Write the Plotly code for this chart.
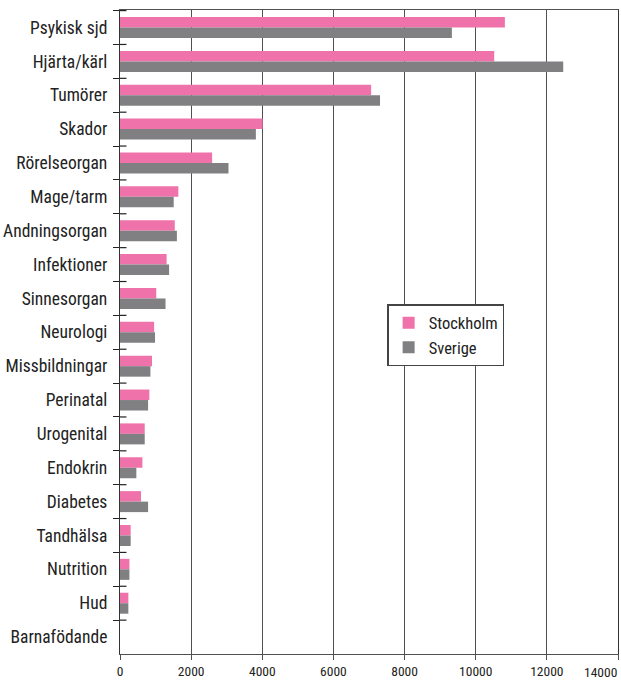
import plotly.graph_objects as go

categories = ["Psykisk sjd", "Hjärta/kärl", "Tumörer", "Skador", "Rörelseorgan",
              "Mage/tarm", "Andningsorgan", "Infektioner", "Sinnesorgan", "Neurologi",
              "Missbildningar", "Perinatal", "Urogenital", "Endokrin", "Diabetes",
              "Tandhälsa", "Nutrition", "Hud", "Barnafödande"]
stockholm = [10820, 10520, 7060, 4010, 2590, 1640, 1540, 1310, 1020, 960,
             900, 825, 695, 630, 590, 300, 265, 235, 0]
sverige = [9330, 12460, 7310, 3820, 3050, 1510, 1600, 1380, 1280, 985,
           855, 790, 695, 460, 790, 300, 265, 235, 0]
x_ticks = [0, 2000, 4000, 6000, 8000, 10000, 12000, 14000]
x_ticktext = ["0", "2000", "4000", "6000", "8000", "10000", "12000", ""]
last_tick_label = "14000"

FONT = "Roboto Condensed, Liberation Sans Narrow, sans-serif"
INK = "#222222"
GRID = "#505050"

fig = go.Figure()
fig.add_trace(go.Bar(y=categories, x=stockholm, name="Stockholm", orientation="h",
                     marker=dict(color="#EF73AA", line=dict(width=0))))
fig.add_trace(go.Bar(y=categories, x=sverige, name="Sverige", orientation="h",
                     marker=dict(color="#808083", line=dict(width=0))))

# inner half of the cross-shaped category ticks on the left axis
for i in range(len(categories)):
    fig.add_shape(type="line", xref="x domain", yref="y",
                  x0=0, x1=0.013, y0=i - 0.5, y1=i - 0.5,
                  line=dict(color=INK, width=1.2), layer="above")

# last x tick label, right-aligned at its gridline so it stays inside the page
fig.add_annotation(x=x_ticks[-1], xref="x", y=0, yref="paper",
                   text=last_tick_label, showarrow=False,
                   xanchor="right", yanchor="middle", yshift=-18, xshift=1,
                   font=dict(size=13.5, family=FONT, color=INK))

fig.update_layout(
    width=621, height=686,
    margin=dict(l=120, r=3, t=10, b=32),
    paper_bgcolor="white", plot_bgcolor="white",
    barmode="group", bargap=0.38, bargroupgap=0,
    font=dict(family=FONT, color=INK),
    showlegend=True,
    legend=dict(x=0.537, y=0.543, xanchor="left", yanchor="top",
                bgcolor="white", bordercolor="#444444", borderwidth=1.2,
                font=dict(size=16.5, family=FONT, color=INK),
                itemwidth=30,
                traceorder="normal", tracegroupgap=0),
    xaxis=dict(range=[0, 14000], tickvals=x_ticks, ticktext=x_ticktext,
               showgrid=True, gridcolor=GRID, gridwidth=1.3,
               showline=True, linecolor=GRID, linewidth=1.3, mirror=True,
               ticks="outside", ticklen=5, tickcolor=GRID,
               tickfont=dict(size=13.5, family=FONT, color=INK),
               zeroline=False, automargin=False, fixedrange=True),
    yaxis=dict(autorange="reversed", type="category",
               showline=True, linecolor="#333333", linewidth=1.3, mirror=True,
               ticks="outside", tickson="boundaries", ticklen=6, tickcolor=INK,
               tickfont=dict(size=17.5, family=FONT, color=INK),
               ticklabelstandoff=8, showgrid=False, automargin=False),
)

fig.write_html("out.html")
